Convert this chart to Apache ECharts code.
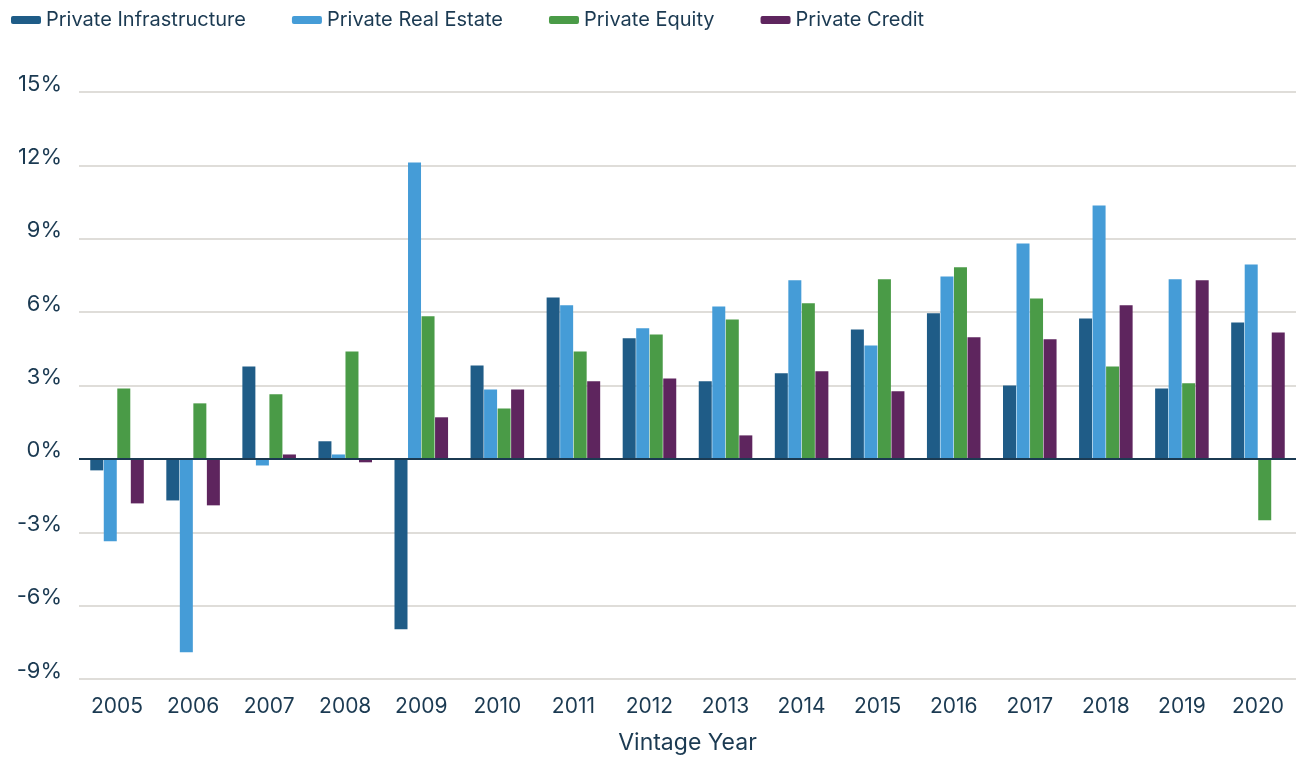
<!DOCTYPE html>
<html>
<head>
<meta charset="utf-8">
<script src="https://cdn.jsdelivr.net/npm/echarts@6/dist/echarts.min.js"></script>
<style>
  html, body { margin: 0; padding: 0; background: #ffffff; }
  #chart { width: 1296px; height: 757px; }
</style>
</head>
<body>
<div id="chart"></div>
<script>
const categories = ['2005','2006','2007','2008','2009','2010','2011','2012','2013','2014','2015','2016','2017','2018','2019','2020'];
const seriesNames = ['Private Infrastructure','Private Real Estate','Private Equity','Private Credit'];
const privateInfrastructure = [-0.47, -1.70, 3.78, 0.72, -6.97, 3.82, 6.60, 4.93, 3.17, 3.50, 5.29, 5.95, 3.00, 5.74, 2.88, 5.58];
const privateRealEstate     = [-3.37, -7.91, -0.27, 0.18, 12.12, 2.84, 6.28, 5.34, 6.23, 7.30, 4.64, 7.46, 8.81, 10.36, 7.34, 7.95];
const privateEquity         = [2.88, 2.27, 2.64, 4.39, 5.83, 2.06, 4.39, 5.09, 5.70, 6.36, 7.34, 7.83, 6.56, 3.78, 3.09, -2.51];
const privateCredit         = [-1.82, -1.90, 0.18, -0.14, 1.70, 2.84, 3.17, 3.29, 0.96, 3.58, 2.76, 4.97, 4.89, 6.28, 7.30, 5.17];
const yTicks = { min: -9, max: 15, interval: 3 };

const colors = ['#1f5c87', '#459cd7', '#4a9b47', '#5e255e'];
const textColor = '#1b3a52';
const fontFamily = 'Inter, "Noto Sans", sans-serif';
const dataSets = [privateInfrastructure, privateRealEstate, privateEquity, privateCredit];

const chart = echarts.init(document.getElementById('chart'));
const series = seriesNames.map((name, i) => {
  const s = {
    name: name,
    type: 'bar',
    data: dataSets[i],
    barWidth: 13,
    barGap: '4%',
    itemStyle: { color: colors[i] },
    emphasis: { disabled: true }
  };
  if (i === 3) {
    s.markLine = {
      silent: true,
      symbol: 'none',
      label: { show: false },
      lineStyle: { color: textColor, width: 2, type: 'solid' },
      data: [{ yAxis: 0 }],
      z: 10
    };
  }
  return s;
});

chart.setOption({
  animation: false,
  color: colors,
  textStyle: { fontFamily: fontFamily },
  legend: {
    data: seriesNames,
    left: 6,
    top: 5,
    icon: 'roundRect',
    itemWidth: 30,
    itemHeight: 8,
    itemGap: 46,
    textStyle: { color: textColor, fontSize: 20, fontFamily: fontFamily }
  },
  grid: { left: 79, right: 0, top: 92, bottom: 78, containLabel: false, outerBoundsMode: 'none' },
  xAxis: {
    type: 'category',
    data: categories,
    name: 'Vintage Year',
    nameLocation: 'middle',
    nameGap: 53,
    nameTextStyle: { color: textColor, fontSize: 23, fontFamily: fontFamily },
    axisLine: { show: false, onZero: false },
    axisTick: { show: false },
    axisLabel: { color: textColor, fontSize: 21, margin: 17, fontFamily: fontFamily }
  },
  yAxis: {
    type: 'value',
    min: yTicks.min,
    max: yTicks.max,
    interval: yTicks.interval,
    axisLine: { show: false },
    axisTick: { show: false },
    axisLabel: {
      color: textColor,
      fontSize: 22,
      margin: 17,
      verticalAlign: 'bottom',
      lineHeight: 16,
      fontFamily: fontFamily,
      formatter: '{value}%'
    },
    splitLine: { lineStyle: { color: '#d4d2cc', width: 1.5 } }
  },
  series: series
});
</script>
</body>
</html>
